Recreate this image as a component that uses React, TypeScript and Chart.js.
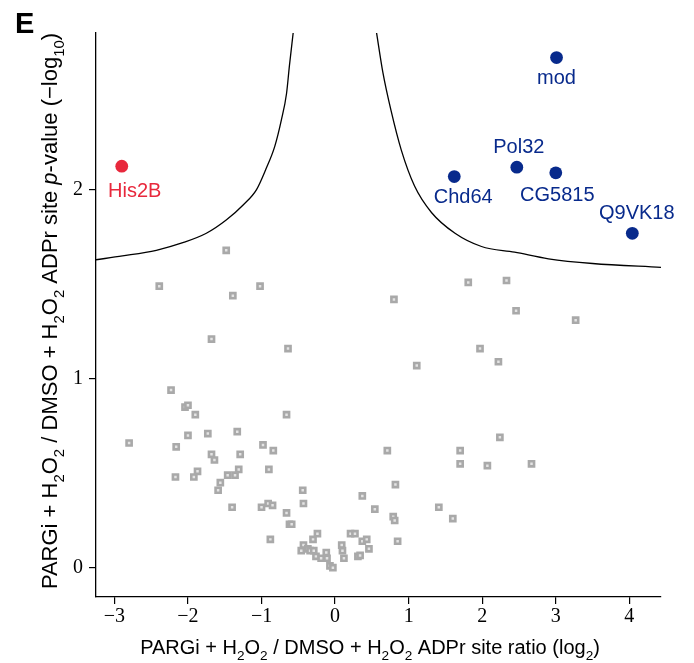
import React, { useEffect, useRef } from 'react';
import { Chart, registerables } from 'chart.js';
Chart.register(...registerables);

// grey (non-significant) sites
const greyX = [-1.48, -2.39, -1.02, -1.39, 0.80, 1.81, 2.33, 2.46, 3.27, -1.68, -0.64, 1.97, 2.22, 1.11,
  -2.23, -2.04, -2.00, -1.90, -0.66, -2.80, -2.16, -2.00, -1.73, -1.33, -0.98, -0.84, -1.68, -1.64, -1.29,
  -2.17, -1.92, -1.87, -1.56, -1.59, -1.46, -1.36, -1.31, -0.90, -1.40, -1.00, -0.91, -0.85, -0.66, -0.62,
  -0.59, -0.88, -0.44, -0.43,
  2.24, 0.71, 1.70, 1.70, 2.07, 2.67, 0.82, 0.37, 0.54, 0.79, 0.81, 1.41, 1.60, 0.85,
  -0.24, -0.30, -0.43, -0.46, -0.37, -0.34, -0.29, -0.26, -0.19, -0.12, -0.11, -0.07, -0.03,
  0.09, 0.10, 0.12, 0.21, 0.27, 0.31, 0.34, 0.37, 0.43, 0.46];
const greyY = [1.68, 1.49, 1.49, 1.44, 1.42, 1.51, 1.52, 1.36, 1.31, 1.21, 1.16, 1.16, 1.09, 1.07,
  0.94, 0.85, 0.86, 0.81, 0.81, 0.66, 0.64, 0.70, 0.71, 0.72, 0.65, 0.62, 0.60, 0.57, 0.60,
  0.48, 0.48, 0.51, 0.45, 0.41, 0.49, 0.49, 0.52, 0.52, 0.32, 0.32, 0.34, 0.33, 0.29, 0.23,
  0.23, 0.15, 0.41, 0.34,
  0.69, 0.62, 0.62, 0.55, 0.54, 0.55, 0.44, 0.38, 0.31, 0.27, 0.25, 0.32, 0.26, 0.14,
  0.18, 0.15, 0.12, 0.09, 0.10, 0.09, 0.09, 0.06, 0.05, 0.08, 0.05, 0.01, 0.00,
  0.12, 0.09, 0.05, 0.18, 0.18, 0.06, 0.065, 0.14, 0.15, 0.10];

// significant hits
const hitNames = ['His2B', 'mod', 'Pol32', 'Chd64', 'CG5815', 'Q9VK18'];
const hitX = [-2.90, 3.01, 2.47, 1.62, 3.00, 4.04];
const hitY = [2.125, 2.70, 2.12, 2.07, 2.09, 1.77];
const hitDown = [true, false, false, false, false, false];
// label placement (pixel offsets of label baseline from point)
const labelDx = [13, 0, 2, 9, 1.5, 4.5];
const labelDy = [31, 26, -14, 26, 28.5, -14.5];

// significance threshold curves
const leftCurveX = [-3.25, -2.89, -2.43, -2.07, -1.75, -1.48, -1.25, -1.07, -0.94, -0.82, -0.73, -0.66, -0.62, -0.57];
const leftCurveY = [1.63, 1.65, 1.68, 1.72, 1.77, 1.84, 1.92, 2.00, 2.11, 2.23, 2.37, 2.51, 2.66, 2.83];
const rightCurveX = [0.56, 0.65, 0.76, 0.90, 1.08, 1.31, 1.63, 1.99, 2.44, 2.90, 3.50, 4.43];
const rightCurveY = [2.84, 2.62, 2.42, 2.21, 2.02, 1.88, 1.77, 1.70, 1.67, 1.635, 1.61, 1.59];

const xTicks = [-3, -2, -1, 0, 1, 2, 3, 4];
const yTicks = [0, 1, 2];

const RED = '#e8283c';
const BLUE = '#082a8c';
const SANS = '"Liberation Sans", Arial, sans-serif';
const SERIF = '"Liberation Serif", "Times New Roman", serif';

type Part = [string, 'n' | 's' | 'i'];
const xTitle: Part[] = [['PARGi + H', 'n'], ['2', 's'], ['O', 'n'], ['2', 's'], [' / DMSO + H', 'n'], ['2', 's'], ['O', 'n'], ['2', 's'], [' ADPr site ratio (log', 'n'], ['2', 's'], [')', 'n']];
const yTitle: Part[] = [['PARGi + H', 'n'], ['2', 's'], ['O', 'n'], ['2', 's'], [' / DMSO + H', 'n'], ['2', 's'], ['O', 'n'], ['2', 's'], [' ADPr site ', 'n'], ['p', 'i'], ['-value (\u2212log', 'n'], ['10', 's'], [')', 'n']];

function fontFor(kind: string, fs: number) {
  if (kind === 's') return `${fs * 0.68}px ${SANS}`;
  if (kind === 'i') return `italic ${fs}px ${SANS}`;
  return `${fs}px ${SANS}`;
}

function drawRich(ctx: CanvasRenderingContext2D, parts: Part[], cx: number, baseline: number, fs: number) {
  let total = 0;
  const widths = parts.map(([t, k]) => { ctx.font = fontFor(k, fs); const w = ctx.measureText(t).width; total += w; return w; });
  let x = cx - total / 2;
  ctx.textAlign = 'left';
  ctx.textBaseline = 'alphabetic';
  parts.forEach(([t, k], i) => {
    ctx.font = fontFor(k, fs);
    ctx.fillText(t, x, k === 's' ? baseline + fs * 0.3 : baseline);
    x += widths[i];
  });
}

const fmt = (v: number) => (v < 0 ? '\u2212' + Math.abs(v) : String(v));

export default function App() {
  const ref = useRef<HTMLCanvasElement>(null);
  useEffect(() => {
    const canvas = ref.current!;
    const overlay = {
      id: 'overlay',
      afterDatasetsDraw(chart: any) {
        const ctx = chart.ctx as CanvasRenderingContext2D;
        const xs = chart.scales.x, ys = chart.scales.y;
        ctx.save();
        ctx.textAlign = 'center';
        ctx.textBaseline = 'alphabetic';
        ctx.font = `20px ${SANS}`;
        hitNames.forEach((n, i) => {
          ctx.fillStyle = hitDown[i] ? RED : BLUE;
          const px = xs.getPixelForValue(hitX[i]);
          const py = ys.getPixelForValue(hitY[i]);
          ctx.fillText(n, px + labelDx[i], py + labelDy[i]);
        });
        ctx.restore();
      },
      afterDraw(chart: any) {
        const ctx = chart.ctx as CanvasRenderingContext2D;
        ctx.save();
        ctx.fillStyle = '#000';
        ctx.font = `bold 29px ${SANS}`;
        ctx.textAlign = 'left';
        ctx.textBaseline = 'alphabetic';
        ctx.fillText('E', 15, 33);
        drawRich(ctx, xTitle, 370, 654, 20);
        ctx.translate(57, 311);
        ctx.rotate(-Math.PI / 2);
        drawRich(ctx, yTitle, 0, 0, 22);
        ctx.restore();
      },
    };
    const chart = new Chart(canvas, {
      type: 'scatter',
      data: {
        datasets: [
          {
            data: hitX.map((x, i) => ({ x, y: hitY[i] })),
            pointStyle: 'circle',
            pointRadius: 6.4,
            pointBackgroundColor: hitDown.map((d) => (d ? RED : BLUE)),
            pointBorderWidth: 0,
          } as any,
          {
            data: leftCurveX.map((x, i) => ({ x, y: leftCurveY[i] })),
            showLine: true,
            borderColor: '#000',
            borderWidth: 1.3,
            pointRadius: 0,
            cubicInterpolationMode: 'monotone',
          },
          {
            data: rightCurveX.map((x, i) => ({ x, y: rightCurveY[i] })),
            showLine: true,
            borderColor: '#000',
            borderWidth: 1.3,
            pointRadius: 0,
            cubicInterpolationMode: 'monotone',
          },
          {
            data: greyX.map((x, i) => ({ x, y: greyY[i] })),
            pointStyle: 'rect',
            pointRadius: 3.6,
            pointBackgroundColor: '#e4e4e4',
            pointBorderColor: '#a9a9a9',
            pointBorderWidth: 2.6,
          },
        ],
      },
      options: {
        animation: false,
        responsive: false,
        devicePixelRatio: 1,
        layout: { padding: { top: 33, right: 33, left: 0, bottom: 0 } },
        plugins: { legend: { display: false }, tooltip: { enabled: false } },
        scales: {
          x: {
            type: 'linear',
            min: -3.25,
            max: 4.43,
            afterBuildTicks: (s: any) => { s.ticks = xTicks.map((v) => ({ value: v })); },
            afterFit: (s: any) => { s.height = 66; },
            ticks: { callback: (v: any) => fmt(Number(v)), font: { family: SERIF, size: 20 }, color: '#000', padding: 1, maxRotation: 0, autoSkip: false },
            grid: { display: true, drawOnChartArea: false, drawTicks: true, tickLength: 7, color: '#000', lineWidth: 1.2 },
            border: { display: true, color: '#000', width: 1.3 },
          },
          y: {
            type: 'linear',
            min: -0.155,
            max: 2.83,
            afterBuildTicks: (s: any) => { s.ticks = yTicks.map((v) => ({ value: v })); },
            afterFit: (s: any) => { s.width = 96; },
            ticks: { callback: (v: any) => fmt(Number(v)), font: { family: SERIF, size: 20 }, color: '#000', padding: 6 },
            grid: { display: true, drawOnChartArea: false, drawTicks: true, tickLength: 7, color: '#000', lineWidth: 1.2 },
            border: { display: true, color: '#000', width: 1.3 },
          },
        },
      },
      plugins: [overlay],
    } as any);
    return () => chart.destroy();
  }, []);
  return (
    <div style={{ position: 'absolute', left: 0, top: 0, width: 694, height: 663, background: '#fff' }}>
      <canvas ref={ref} width={694} height={663} style={{ display: 'block', width: 694, height: 663 }} />
    </div>
  );
}
